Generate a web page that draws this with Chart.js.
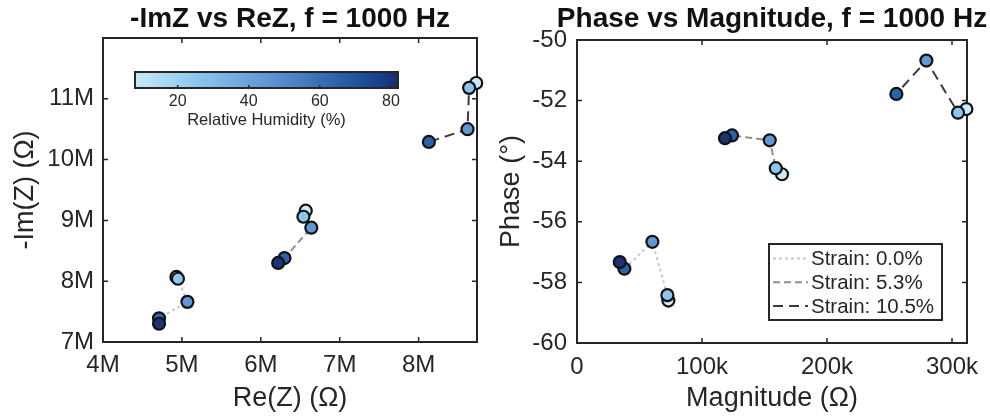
<!DOCTYPE html>
<html>
<head>
<meta charset="utf-8">
<script src="https://cdn.jsdelivr.net/npm/chart.js@4.4.1/dist/chart.umd.min.js"></script>
<style>
  html, body { margin: 0; padding: 0; background: #fff; }
  #wrap { position: relative; width: 990px; height: 416px; }
  canvas { position: absolute; top: 0; }
</style>
</head>
<body>
<div id="wrap">
  <canvas id="nyquist" width="495" height="416" style="left:0"></canvas>
  <canvas id="bode" width="495" height="416" style="left:495px"></canvas>
</div>
<script>
// values (f = 1000 Hz), one entry per humidity level
const humidity = [8, 25, 45, 65, 80];          // % RH -> marker colour
const rhRange = [8, 82];                        // colorbar limits
const rhTicks = [20, 40, 60, 80];
const strainLabels = ['Strain: 0.0%', 'Strain: 5.3%', 'Strain: 10.5%'];

// -Im(Z) vs Re(Z), ohm
const reZ_s0  = [4.93e6, 4.95e6, 5.07e6, 4.71e6, 4.71e6];
const imZ_s0  = [8.07e6, 8.04e6, 7.66e6, 7.39e6, 7.30e6];
const reZ_s5  = [6.57e6, 6.54e6, 6.64e6, 6.30e6, 6.22e6];
const imZ_s5  = [9.16e6, 9.06e6, 8.88e6, 8.38e6, 8.30e6];
const reZ_s10 = [8.73e6, 8.64e6, 8.62e6, 8.13e6, null];
const imZ_s10 = [11.26e6, 11.18e6, 10.50e6, 10.29e6, null];

// phase vs magnitude
const mag_s0    = [73.1e3, 72.3e3, 60.3e3, 37.9e3, 34.2e3];
const phase_s0  = [-58.60, -58.42, -56.66, -57.55, -57.33];
const mag_s5    = [164.0e3, 159.0e3, 154.2e3, 124.0e3, 118.4e3];
const phase_s5  = [-54.43, -54.23, -53.31, -53.15, -53.24];
const mag_s10   = [311.5e3, 304.8e3, 279.5e3, 255.5e3, null];
const phase_s10 = [-52.28, -52.40, -50.68, -51.78, null];

// axis ticks
const reTicks = [4e6, 5e6, 6e6, 7e6, 8e6];
const imTicks = [7e6, 8e6, 9e6, 10e6, 11e6];
const magTicks = [0, 100e3, 200e3, 300e3];
const phaseTicks = [-60, -58, -56, -54, -52, -50];

const FONT = '"Liberation Sans", Arial, Helvetica, sans-serif';
const ink = '#262626';
Chart.defaults.font.family = FONT;
Chart.defaults.color = ink;

// blues colormap (light -> navy)
const cmap = [
  [8,  [200, 234, 250]],
  [25, [142, 199, 236]],
  [45, [95, 152, 212]],
  [65, [43, 98, 172]],
  [75, [22, 70, 146]],
  [82, [30, 44, 106]]
];
const rgb = c => `rgb(${c.map(Math.round).join(',')})`;
function rhColor(v) {
  if (v <= cmap[0][0]) return rgb(cmap[0][1]);
  for (let i = 1; i < cmap.length; i++) {
    const [v1, c1] = cmap[i], [v0, c0] = cmap[i - 1];
    if (v <= v1) {
      const t = (v - v0) / (v1 - v0);
      return rgb(c0.map((c, k) => c + (c1[k] - c) * t));
    }
  }
  return rgb(cmap[cmap.length - 1][1]);
}

const lineStyles = [
  { color: '#c8c8c8', dash: [3, 3] },
  { color: '#8e8e8e', dash: [7, 4] },
  { color: '#3c3c3c', dash: [10, 6] }
];

function series(xs, ys, k) {
  return {
    label: strainLabels[k],
    data: humidity.map((rh, i) => ({ x: xs[i], y: ys[i], rh })).filter(p => p.x !== null),
    showLine: true,
    borderColor: lineStyles[k].color,
    borderDash: lineStyles[k].dash,
    borderWidth: 2,
    pointRadius: 6,
    pointHoverRadius: 6,
    pointBorderWidth: 2.2,
    pointBorderColor: '#111',
    pointBackgroundColor: c => (c.raw ? rhColor(c.raw.rh) : '#fff'),
    clip: false
  };
}

function axis(ticks, fmt, title, opts) {
  return {
    type: 'linear',
    min: opts.min,
    max: opts.max,
    afterBuildTicks: s => { s.ticks = ticks.map(v => ({ value: v })); },
    afterFit: s => { if (s.isHorizontal()) s.height = opts.size; else s.width = opts.size; },
    grid: { display: false, drawTicks: false },
    border: { display: false },
    ticks: { font: { size: 24 }, padding: opts.tickPad, callback: fmt, maxRotation: 0, autoSkip: false },
    title: { display: true, text: title, font: { size: 27 }, padding: opts.titlePad }
  };
}

// box around the axes with inward ticks on all four sides
const frame = {
  id: 'frame',
  beforeDatasetsDraw(chart) {
    const { ctx, chartArea: a, scales: { x, y } } = chart;
    ctx.save();
    ctx.strokeStyle = ink;
    ctx.lineWidth = 2;
    ctx.strokeRect(a.left, a.top, a.right - a.left, a.bottom - a.top);
    ctx.lineWidth = 1.5;
    ctx.beginPath();
    x.ticks.forEach(t => {
      const p = x.getPixelForValue(t.value);
      ctx.moveTo(p, a.bottom); ctx.lineTo(p, a.bottom - 5);
      ctx.moveTo(p, a.top); ctx.lineTo(p, a.top + 5);
    });
    y.ticks.forEach(t => {
      const p = y.getPixelForValue(t.value);
      ctx.moveTo(a.left, p); ctx.lineTo(a.left + 5, p);
      ctx.moveTo(a.right, p); ctx.lineTo(a.right - 5, p);
    });
    ctx.stroke();
    ctx.restore();
  }
};

const heading = {
  id: 'heading',
  afterDraw(chart, args, o) {
    const { ctx, chartArea: a } = chart;
    ctx.save();
    ctx.font = `bold 28px ${FONT}`;
    ctx.fillStyle = '#111';
    ctx.textAlign = 'center';
    ctx.textBaseline = 'alphabetic';
    ctx.fillText(o.text, (a.left + a.right) / 2, o.baseline);
    ctx.restore();
  }
};

const colorbar = {
  id: 'colorbar',
  afterDatasetsDraw(chart) {
    const { ctx, chartArea: a } = chart;
    const x0 = a.left + 32, w = 263, y0 = a.top + 34, h = 16;
    const span = rhRange[1] - rhRange[0];
    const g = ctx.createLinearGradient(x0, 0, x0 + w, 0);
    cmap.forEach(([v, c]) => g.addColorStop((v - rhRange[0]) / span, rgb(c)));
    ctx.save();
    ctx.fillStyle = g;
    ctx.fillRect(x0, y0, w, h);
    ctx.strokeStyle = ink;
    ctx.lineWidth = 2;
    ctx.strokeRect(x0, y0, w, h);
    ctx.lineWidth = 1.5;
    ctx.fillStyle = ink;
    ctx.font = `16px ${FONT}`;
    ctx.textAlign = 'center';
    ctx.textBaseline = 'middle';
    rhTicks.forEach(v => {
      const px = x0 + (v - rhRange[0]) / span * w;
      ctx.beginPath();
      ctx.moveTo(px, y0 + h); ctx.lineTo(px, y0 + h - 3);
      ctx.stroke();
      ctx.fillText(String(v), px, y0 + h + 14);
    });
    ctx.font = `16.5px ${FONT}`;
    ctx.fillText('Relative Humidity (%)', x0 + w / 2, y0 + h + 32);
    ctx.restore();
  }
};

const boxLegend = {
  id: 'boxLegend',
  afterDatasetsDraw(chart) {
    const { ctx, chartArea: a } = chart;
    const w = 173, h = 76;
    const x0 = a.right - 25 - w, y0 = a.bottom - 23 - h;
    ctx.save();
    ctx.fillStyle = '#fff';
    ctx.fillRect(x0, y0, w, h);
    ctx.strokeStyle = ink;
    ctx.lineWidth = 2;
    ctx.strokeRect(x0, y0, w, h);
    ctx.font = `20.5px ${FONT}`;
    ctx.textBaseline = 'middle';
    ctx.textAlign = 'left';
    chart.data.datasets.forEach((ds, i) => {
      const yy = y0 + 14.5 + i * 23.7;
      ctx.setLineDash(ds.borderDash);
      ctx.strokeStyle = ds.borderColor;
      ctx.lineWidth = 2;
      ctx.beginPath();
      ctx.moveTo(x0 + 4, yy); ctx.lineTo(x0 + 39, yy);
      ctx.stroke();
      ctx.setLineDash([]);
      ctx.fillStyle = ink;
      ctx.fillText(ds.label, x0 + 42, yy + 1);
    });
    ctx.restore();
  }
};

const base = {
  responsive: false,
  animation: false,
  events: [],
  plugins: { legend: { display: false }, tooltip: { enabled: false } }
};

new Chart(document.getElementById('nyquist'), {
  type: 'scatter',
  data: {
    datasets: [
      series(reZ_s0, imZ_s0, 0),
      series(reZ_s5, imZ_s5, 1),
      series(reZ_s10, imZ_s10, 2)
    ]
  },
  options: {
    ...base,
    layout: { padding: { top: 38, right: 18, left: 0, bottom: 0 } },
    plugins: { ...base.plugins, heading: { text: '-ImZ vs ReZ, f = 1000 Hz', baseline: 27 } },
    scales: {
      x: axis(reTicks, v => v / 1e6 + 'M', 'Re(Z) (Ω)', { min: 4e6, max: 8.74e6, size: 74, tickPad: 9, titlePad: { top: 0, bottom: 1 } }),
      y: axis(imTicks, v => v / 1e6 + 'M', '-Im(Z) (Ω)', { min: 7e6, max: 12e6, size: 103, tickPad: 9, titlePad: { top: 9, bottom: 0 } })
    }
  },
  plugins: [frame, heading, colorbar]
});

new Chart(document.getElementById('bode'), {
  type: 'scatter',
  data: {
    datasets: [
      series(mag_s0, phase_s0, 0),
      series(mag_s5, phase_s5, 1),
      series(mag_s10, phase_s10, 2)
    ]
  },
  options: {
    ...base,
    layout: { padding: { top: 40, right: 23, left: 0, bottom: 0 } },
    plugins: { ...base.plugins, heading: { text: 'Phase vs Magnitude, f = 1000 Hz', baseline: 27 } },
    scales: {
      x: axis(magTicks, v => (v === 0 ? '0' : v / 1e3 + 'k'), 'Magnitude (Ω)', { min: 0, max: 312e3, size: 73, tickPad: 10, titlePad: { top: 0, bottom: 1 } }),
      y: axis(phaseTicks, v => String(v), 'Phase (°)', { min: -60, max: -50, size: 82, tickPad: 10, titlePad: { top: 0, bottom: 0 } })
    }
  },
  plugins: [frame, heading, boxLegend]
});
</script>
</body>
</html>
